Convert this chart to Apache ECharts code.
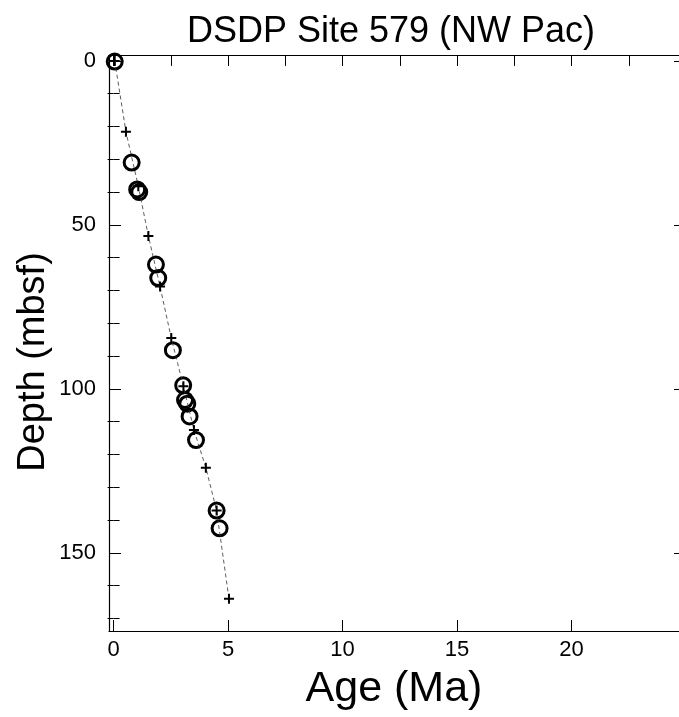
<!DOCTYPE html>
<html>
<head>
<meta charset="utf-8">
<script src="https://cdn.jsdelivr.net/npm/echarts@6/dist/echarts.min.js"></script>
<style>
  html, body { margin: 0; padding: 0; background: #fff; }
  #chart { width: 679px; height: 717px; }
</style>
</head>
<body>
<div id="chart"></div>
<script>
// circles: dated levels (age Ma, depth mbsf)
const circleAges   = [0.05, 0.79, 1.03, 1.12, 1.85, 1.95, 2.59, 3.04, 3.12, 3.22, 3.32, 3.60, 4.50, 4.63];
const circleDepths = [0.2, 31.0, 39.2, 40.0, 62.1, 66.2, 88.2, 98.9, 103.4, 104.5, 108.4, 115.6, 137.1, 142.5];
// crosses: age model tie points, joined by the dashed line
const tieAges   = [0.05, 0.54, 1.08, 1.52, 2.03, 2.52, 3.05, 3.51, 4.03, 4.50, 5.04];
const tieDepths = [0.0, 21.6, 38.2, 53.4, 68.8, 84.5, 99.2, 112.5, 124.0, 137.1, 164.0];

const ageLabels = [0, 5, 10, 15, 20];
const ageMajor = [0, 5, 10, 15, 20, 25];
const ageMinor = [2.5, 7.5, 12.5, 17.5, 22.5];
const depthLabels = [0, 50, 100, 150];
const depthMinor = [10, 20, 30, 40, 60, 70, 80, 90, 110, 120, 130, 140, 160, 170];

const X_MIN = -0.2, X_MAX = 25;
const Y_MIN = -1.8, Y_MAX = 173.8;
const FONT = 'Liberation Sans';

const chart = echarts.init(document.getElementById('chart'));

function xAx(pos, ticks, len, opts) {
  return Object.assign({
    type: 'value', gridIndex: 0, position: pos, min: X_MIN, max: X_MAX,
    axisLine: { show: false },
    axisTick: { show: true, inside: true, length: len, customValues: ticks, lineStyle: { color: '#000', width: 1 } },
    axisLabel: { show: false },
    splitLine: { show: false }
  }, opts || {});
}
function yAx(pos, ticks, len, opts) {
  return Object.assign({
    type: 'value', gridIndex: 0, position: pos, min: Y_MIN, max: Y_MAX, inverse: true,
    axisLine: { show: false },
    axisTick: { show: true, inside: true, length: len, customValues: ticks, lineStyle: { color: '#000', width: 1 } },
    axisLabel: { show: false },
    splitLine: { show: false }
  }, opts || {});
}

const plus = 'path://M4,0h2v10h-2z M0,4h10v2h-10z';
const frame = { show: true, onZero: false, lineStyle: { color: '#000', width: 1.2 } };

chart.setOption({
  animation: false,
  backgroundColor: '#fff',
  title: {
    text: 'DSDP Site 579 (NW Pac)',
    left: 386, top: 9, textAlign: 'center',
    textStyle: { fontFamily: FONT, fontSize: 36, fontWeight: 'normal', color: '#000' }
  },
  // plot runs past the right edge of the picture (right frame at ~686 px)
  grid: { left: 109, top: 55, width: 577, bottom: 86, containLabel: false, outerBoundsMode: 'none' },
  graphic: [
    { type: 'text', x: 394, y: 689, style: { text: 'Age (Ma)', font: '43px "Liberation Sans"', fill: '#000', align: 'center', verticalAlign: 'middle' } },
    { type: 'text', x: 34, y: 362, rotation: Math.PI / 2, style: { text: 'Depth (mbsf)', font: '38px "Liberation Sans"', fill: '#000', align: 'center', verticalAlign: 'middle' } }
  ],
  xAxis: [
    xAx('bottom', ageMajor, 11, {
      axisLine: frame,
      axisLabel: { show: true, customValues: ageLabels, margin: 8, fontFamily: FONT, fontSize: 22, color: '#000' }
    }),
    xAx('bottom', ageMinor, 5),
    xAx('top', ageMajor, 11, { axisLine: frame }),
    xAx('top', ageMinor, 5)
  ],
  yAxis: [
    yAx('left', depthLabels, 12, {
      axisLine: frame,
      axisLabel: { show: true, customValues: depthLabels, margin: 13, fontFamily: FONT, fontSize: 22, color: '#000' }
    }),
    yAx('left', depthMinor, 6),
    yAx('right', depthLabels, 12, { axisLine: frame }),
    yAx('right', depthMinor, 6)
  ],
  series: [
    {
      type: 'line', xAxisIndex: 0, yAxisIndex: 0,
      data: tieAges.map((a, i) => [a, tieDepths[i]]),
      symbol: plus, symbolSize: 10, showSymbol: true,
      itemStyle: { color: '#000' },
      lineStyle: { color: '#333', width: 0.8, type: [4, 3] },
      z: 3
    },
    {
      type: 'scatter', xAxisIndex: 0, yAxisIndex: 0,
      data: circleAges.map((a, i) => [a, circleDepths[i]]),
      symbol: 'circle', symbolSize: 15,
      itemStyle: { color: 'rgba(0,0,0,0)', borderColor: '#000', borderWidth: 3, opacity: 1 },
      z: 2
    }
  ]
});
</script>
</body>
</html>
